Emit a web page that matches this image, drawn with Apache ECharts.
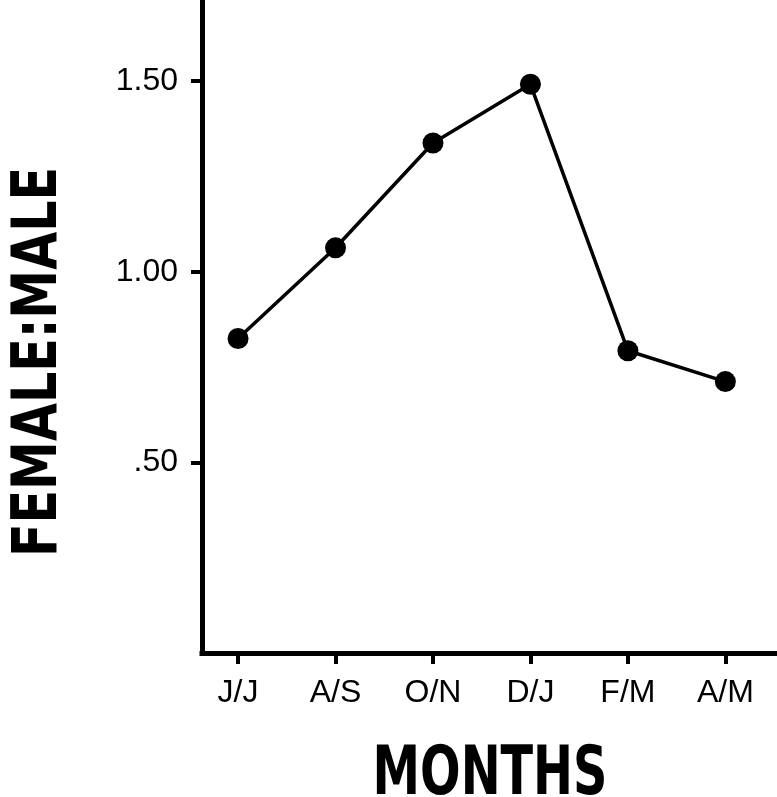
<!DOCTYPE html>
<html>
<head>
<meta charset="utf-8">
<script src="https://cdn.jsdelivr.net/npm/echarts@6/dist/echarts.min.js"></script>
<style>
  html, body { margin: 0; padding: 0; background: #fff; }
  #chart { width: 777px; height: 797px; }
</style>
</head>
<body>
<div id="chart"></div>
<script>
// data
var months = ["J/J", "A/S", "O/N", "D/J", "F/M", "A/M"];
var ratio = [0.825, 1.063, 1.338, 1.492, 0.793, 0.712];
var yTicks = [0.5, 1.0, 1.5];
var yLabels = [".50", "1.00", "1.50"];

var chart = echarts.init(document.getElementById("chart"));
var points = ratio.map(function (v, i) { return [i, v]; });

// y axis line sits at x=202, x axis at y=653, first month at x=238, months 97.46px apart
var axisX = 202, axisY = 653, slot = 97.46, firstX = 238.06;
var pxPerY = 381.18;
var gridLeft = firstX - slot;          // x = -1 (ticks start from min)
var xMaxVal = (777 - firstX) / slot;
var yMaxVal = axisY / pxPerY;

var option = {
  backgroundColor: "#fff",
  animation: false,
  grid: { left: gridLeft, right: 0, top: 0, bottom: 797 - axisY },
  xAxis: {
    type: "value",
    min: -1,
    max: xMaxVal,
    interval: 1,
    splitLine: { show: false },
    axisLine: { show: true, onZero: false, lineStyle: { color: "#000", width: 5 } },
    axisTick: { show: true, length: 11, lineStyle: { color: "#000", width: 4 } },
    axisLabel: {
      showMinLabel: false,
      showMaxLabel: false,
      formatter: function (v) {
        var i = Math.round(v);
        return Math.abs(v - i) < 1e-6 && months[i] ? months[i] : "";
      },
      color: "#000",
      fontFamily: "Liberation Sans",
      fontSize: 32,
      margin: 24
    }
  },
  yAxis: {
    type: "value",
    min: 0,
    max: yMaxVal,
    interval: 0.5,
    offset: gridLeft - axisX,
    splitLine: { show: false },
    axisLine: { show: true, onZero: false, lineStyle: { color: "#000", width: 5 } },
    axisTick: { show: true, length: 11, lineStyle: { color: "#000", width: 4 } },
    axisLabel: {
      showMaxLabel: false,
      formatter: function (v) {
        var k = yTicks.indexOf(Math.round(v * 100) / 100);
        return k < 0 ? "" : yLabels[k];
      },
      color: "#000",
      fontFamily: "Liberation Sans",
      fontSize: 32,
      margin: 24
    }
  },
  graphic: [
    {
      // hide the part of the x axis left of the y axis
      type: "rect",
      z: 100,
      shape: { x: gridLeft - 12, y: axisY - 14, width: axisX - 2.5 - (gridLeft - 12), height: 32 },
      style: { fill: "#fff" }
    },
    {
      type: "text",
      x: 40,
      y: 362,
      rotation: Math.PI / 2,
      scaleX: 0.88,
      style: {
        text: "FEMALE:MALE",
        fill: "#000",
        font: "bold 62px 'Liberation Sans Narrow', 'DejaVu Sans Condensed', sans-serif",
        align: "center",
        verticalAlign: "middle"
      }
    },
    {
      type: "text",
      x: 490,
      y: 776,
      scaleX: 0.78,
      style: {
        text: "MONTHS",
        fill: "#000",
        font: "bold 68px 'Liberation Sans Narrow', 'DejaVu Sans Condensed', sans-serif",
        align: "center",
        verticalAlign: "middle"
      }
    }
  ],
  series: [
    {
      type: "line",
      data: points,
      symbol: "circle",
      symbolSize: 21,
      lineStyle: { color: "#000", width: 3.5 },
      itemStyle: { color: "#000" }
    }
  ]
};
chart.setOption(option);
</script>
</body>
</html>
